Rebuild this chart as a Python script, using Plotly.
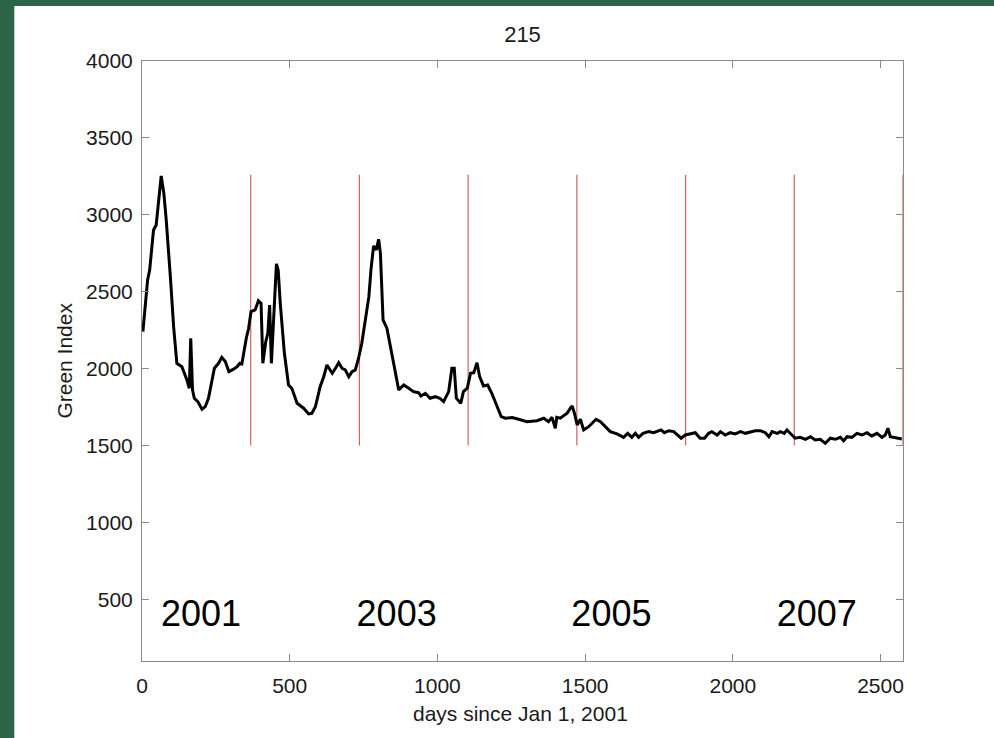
import plotly.graph_objects as go

# ---- data ----
days = [3, 11, 19, 26, 39, 48, 65, 74, 82, 96, 107, 118, 135, 152, 160, 165, 171, 177, 189, 203,
        214, 225, 233, 245, 259, 270, 282, 294, 310, 322, 331, 338, 353, 361, 369, 383, 394, 403,
        409, 419, 426, 432, 438, 446, 455, 461, 468, 482, 496, 507, 525, 547, 564, 575, 587, 603,
        615, 626, 644, 655, 666, 677, 688, 700, 711, 722, 733, 744, 756, 768, 775, 784, 793, 801,
        807, 816, 829, 843, 854, 869, 886, 903, 919, 936, 944, 959, 975, 993, 1008, 1021, 1038,
        1049, 1057, 1064, 1079, 1088, 1101, 1112, 1123, 1134, 1143, 1156, 1170, 1184, 1201, 1216,
        1230, 1253, 1275, 1303, 1337, 1360, 1376, 1388, 1399, 1404, 1416, 1427, 1439, 1450, 1456,
        1464, 1473, 1484, 1495, 1512, 1523, 1537, 1552, 1569, 1585, 1608, 1630, 1644, 1658, 1670,
        1681, 1696, 1715, 1732, 1745, 1757, 1768, 1783, 1800, 1811, 1825, 1839, 1856, 1873, 1889,
        1904, 1918, 1929, 1947, 1958, 1974, 1991, 2008, 2026, 2042, 2059, 2076, 2093, 2110, 2122,
        2133, 2150, 2161, 2174, 2183, 2194, 2211, 2228, 2246, 2263, 2279, 2296, 2313, 2330, 2347,
        2364, 2375, 2387, 2403, 2420, 2437, 2454, 2470, 2488, 2505, 2516, 2525, 2533, 2544, 2561,
        2572]
green_index = [2241, 2425, 2577, 2642, 2902, 2934, 3253, 3140, 2967, 2598, 2273, 2035, 2013, 1927,
               1873, 2198, 1862, 1808, 1786, 1736, 1753, 1808, 1883, 2003, 2035, 2074, 2046, 1981,
               1997, 2013, 2035, 2031, 2198, 2263, 2371, 2382, 2442, 2425, 2035, 2176, 2230, 2414,
               2035, 2338, 2681, 2642, 2425, 2100, 1894, 1873, 1775, 1743, 1706, 1710, 1753, 1883,
               1948, 2024, 1970, 2003, 2039, 2003, 1992, 1948, 1981, 1992, 2068, 2165, 2317, 2468,
               2642, 2798, 2772, 2841, 2750, 2317, 2263, 2111, 2013, 1862, 1894, 1873, 1851, 1844,
               1823, 1840, 1808, 1818, 1808, 1786, 1851, 2003, 2003, 1808, 1775, 1851, 1873, 1970,
               1974, 2039, 1948, 1888, 1894, 1840, 1764, 1688, 1678, 1682, 1671, 1656, 1662, 1678,
               1656, 1684, 1613, 1684, 1678, 1693, 1710, 1743, 1758, 1710, 1634, 1671, 1602, 1623,
               1645, 1671, 1656, 1623, 1591, 1576, 1554, 1580, 1554, 1580, 1554, 1580, 1591, 1584,
               1591, 1602, 1584, 1597, 1591, 1569, 1548, 1569, 1576, 1584, 1548, 1548, 1580, 1591,
               1569, 1591, 1569, 1584, 1576, 1591, 1580, 1591, 1597, 1597, 1584, 1558, 1591, 1580,
               1591, 1580, 1602, 1580, 1548, 1554, 1541, 1558, 1537, 1541, 1515, 1548, 1541, 1554,
               1532, 1558, 1554, 1580, 1569, 1584, 1563, 1580, 1554, 1569, 1613, 1558, 1554, 1548,
               1543]

year_marks = [368, 736, 1104, 1472, 1840, 2208, 2576]
mark_low, mark_high = 1500, 3260

year_labels = ["2001", "2003", "2005", "2007"]
year_label_x = [200, 862, 1589, 2284]
year_label_y = 386

x_ticks = [0, 500, 1000, 1500, 2000, 2500]
y_ticks = [500, 1000, 1500, 2000, 2500, 3000, 3500, 4000]

title_text = "215"
x_title = "days since Jan 1, 2001"
y_title = "Green Index"

# ---- build ----
mx, my = [], []
for d in year_marks:
    mx += [d, d, None]
    my += [mark_low, mark_high, None]

fig = go.Figure()
fig.add_trace(go.Scatter(x=mx, y=my, mode="lines",
                         line=dict(color="#d46060", width=1.2), hoverinfo="skip",
                         showlegend=False))
fig.add_trace(go.Scatter(x=days, y=green_index, mode="lines",
                         line=dict(color="black", width=3), showlegend=False))
fig.add_trace(go.Scatter(x=year_label_x, y=[year_label_y] * len(year_labels),
                         text=year_labels, mode="text", textposition="middle center",
                         textfont=dict(family="Liberation Sans, Arial", size=36, color="black"),
                         showlegend=False, hoverinfo="skip"))

FONT = "Liberation Sans, Arial, Helvetica"
axis_common = dict(showline=True, linecolor="#8a8a8a", linewidth=1, mirror="ticks",
                   ticks="inside", ticklen=7, tickcolor="#8a8a8a", tickwidth=1,
                   showgrid=False, zeroline=False,
                   tickfont=dict(family=FONT, size=21, color="#1a1a1a"))

fig.update_layout(
    width=994, height=738,
    margin=dict(l=142, r=91, t=61, b=77),
    paper_bgcolor="#2b6446",
    plot_bgcolor="white",
    font=dict(family=FONT, color="#1a1a1a"),
    title=dict(text=title_text, x=0.5, xref="paper", xanchor="center",
               y=1 - 34 / 738, yref="container", yanchor="middle",
               font=dict(family=FONT, size=22, color="#1a1a1a")),
    xaxis=dict(range=[0, 2576], tickvals=x_ticks, ticklabelstandoff=6, **axis_common),
    yaxis=dict(range=[100, 4000], tickvals=y_ticks, ticklabelstandoff=4, **axis_common),
    shapes=[dict(type="rect", xref="paper", yref="paper",
                 x0=-0.1678, x1=1.2, y0=-0.3, y1=1.0917,
                 fillcolor="white", line=dict(width=0), layer="below")],
    annotations=[
        dict(text=x_title, xref="paper", yref="paper", x=0.497, y=-0.088,
             xanchor="center", yanchor="middle", showarrow=False,
             font=dict(family=FONT, size=21, color="#1a1a1a")),
        dict(text=y_title, xref="paper", yref="paper", x=-0.103, y=0.5,
             xanchor="center", yanchor="middle", showarrow=False, textangle=-90,
             font=dict(family=FONT, size=21, color="#1a1a1a")),
    ],
)

fig.write_html(
    "out.html",
    config={"displayModeBar": False},
    post_script="document.body.style.margin='0px';document.body.style.background='#2b6446';",
)
